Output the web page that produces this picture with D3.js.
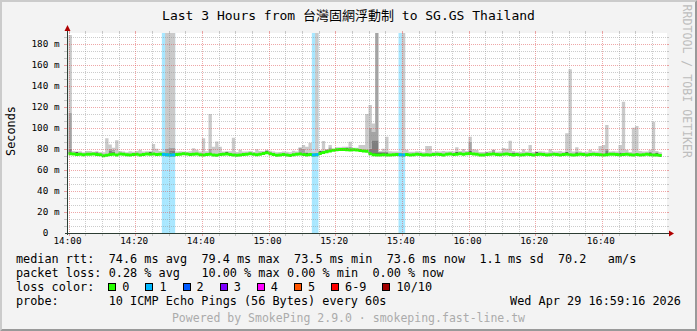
<!DOCTYPE html>
<html><head><meta charset="utf-8">
<script src="https://cdn.jsdelivr.net/npm/d3@7"></script>
<style>html,body{margin:0;padding:0;background:#F3F3F3;} svg{display:block;} text{font-family:'DejaVu Sans Mono','Noto Sans CJK TC',monospace;}</style>
</head><body><svg id="c" width="697" height="331"></svg>
<script>
// ---------------- data ----------------
const title = "Last 3 Hours from 台灣固網浮動制 to SG.GS Thailand";
const yTickValues = [0,20,40,60,80,100,120,140,160,180];
const xTickMinutes = [0,20,40,60,80,100,120,140,160];
const xTickLabels = ["14:00","14:20","14:40","15:00","15:20","15:40","16:00","16:20","16:40"];
// one value per 60 s step starting 14:00 (ms)
const median = [
75.2,75.0,74.6,74.8,74.4,74.9,74.7,75.0,74.5,74.3,
73.5,73.9,74.6,74.9,74.2,75.1,74.8,74.4,74.0,74.6,
74.9,74.2,74.5,75.1,74.8,75.0,74.6,74.9,74.7,74.3,
74.0,74.2,74.5,74.8,75.2,75.0,74.6,74.8,75.1,74.4,
74.0,74.6,74.9,74.2,73.9,74.5,74.8,75.0,74.6,74.2,
73.8,74.0,74.6,74.9,75.3,74.7,74.4,74.9,75.5,76.2,
75.4,74.6,73.9,74.2,74.6,74.0,73.7,74.3,74.8,75.1,
74.6,74.2,74.6,74.2,74.4,75.6,76.4,77.2,78.0,78.6,
79.0,79.3,79.4,79.0,78.8,79.2,78.8,78.4,77.9,77.6,
75.4,74.4,74.2,74.0,74.3,74.1,74.0,74.4,74.5,74.4,
74.2,74.6,74.0,74.3,74.8,74.5,74.1,74.4,74.0,74.6,
74.9,74.5,74.2,74.8,75.0,74.6,74.9,75.2,74.8,75.3,
75.6,75.0,74.8,74.2,74.0,74.5,74.8,75.0,74.6,74.3,
74.7,75.1,74.6,74.2,74.5,74.0,74.4,74.8,74.5,74.2,
74.6,74.9,74.5,74.1,74.4,74.8,74.6,74.2,74.5,74.8,
74.4,74.0,74.3,74.7,74.5,74.2,74.6,74.9,74.5,74.3,
74.0,74.4,74.7,74.9,74.5,74.1,74.6,74.8,74.4,74.2,
74.5,74.1,74.4,74.8,74.3,74.0,74.2,73.6
];
// highest ping of each step (ms)
const pingMax = [
188,77.8,77.5,77.6,76.8,77.8,78.0,77.2,77.6,77.0,
76.6,90.0,84.0,81.0,88.0,77.8,77.4,76.6,77.6,77.2,
77.8,79.0,77.4,77.6,77.6,84.5,80.0,77.8,77.4,200,
200,200,77.5,77.6,77.4,77.2,77.6,80.5,79.0,77.4,
90.0,77.6,113.0,82.0,87.0,82.0,77.4,77.5,77.6,90.5,
76.9,79.0,77.4,77.4,77.8,77.0,79.6,77.8,78.0,79.0,
78.2,77.4,76.7,77.0,77.4,77.2,76.6,78.2,77.4,81.4,
83.6,82.0,85.8,77.5,200,78.5,87.4,79.6,83.6,80.0,
81.4,81.4,82.0,82.0,86.7,81.0,81.0,83.6,83.6,113.0,
121.6,104.0,200,78.0,80.0,91.5,77.6,77.4,77.4,77.0,
200,79.0,77.2,77.2,77.6,77.4,76.8,82.6,82.6,77.2,
77.6,77.4,78.0,77.4,77.6,77.4,81.4,77.8,79.8,78.0,
91.5,79.6,79.0,77.0,77.0,77.2,78.0,79.0,77.2,77.4,
80.7,80.0,87.7,78.0,77.2,77.0,79.6,77.4,83.6,77.0,
77.5,77.6,77.4,76.6,79.6,77.4,77.4,78.0,77.2,94.7,
155.5,77.4,81.4,77.6,77.0,77.2,79.0,77.6,77.4,82.6,
83.6,102.6,77.4,77.6,77.4,83.6,124.7,79.0,77.0,100.0,
101.6,78.0,77.4,77.4,79.0,105.8,78.0,76.8
];
// 2nd highest ping where it stands out (step, ms)
const ping9Step = [0,12,13,29,30,31,42,69,70,77,78,84,90,91,92,120,127,161];
const ping9Val  = [114,80,79,80,81,81,80,81,80,79.6,81.4,82,100,96,200,86.7,79,80];
// 3rd highest ping where it stands out
const ping8Step = [0,12,13,30,31,77,90,91,92,161];
const ping8Val  = [80,78,77.5,78,78,79,80,88,88,78.5];
// 4th highest ping where it stands out (dark smoke just above the median)
const ping7Step = [2,8,24,30,47,59,71,75,83,90,91,92,93,94,95,116,120,125,133,140,149,152,161,165,174,176];
const ping7Val  = [76.9,76.8,77.1,76.5,77.3,78.4,76.5,77.9,81.2,76.8,76.6,76.6,76.6,76.6,76.6,77.2,77.9,76.8,76.5,76.9,77.1,76.6,76.7,76.4,76.6,76.5];
// steps with packet loss (lost pings out of 10)
const lossStep  = [28,29,30,31,73,74,99,100];
const lossCount = [1,1,1,1,1,1,1,1];
const lossLabels = ["0","1","2","3","4","5","6-9","10/10"];
const lossColors = ["#26ff00","#00b8ff","#0059ff","#7e00ff","#ff00ff","#ff5500","#ff0000","#a10000"];
const legendRow1 = [["median rtt:",0],["74.6 ms avg",13],["79.4 ms max",26],["73.5 ms min",39],["73.6 ms now",52],["1.1 ms sd",65],["70.2",76],["am/s",83]];
const legendRow2 = [["packet loss:",0],["0.28 % avg",13],["10.00 % max",26],["0.00 % min",38],["0.00 % now",50]];
const probeText = "10 ICMP Echo Pings (56 Bytes) every 60s";
const dateText = "Wed Apr 29 16:59:16 2026";
const poweredText = "Powered by SmokePing 2.9.0 · smokeping.fast-line.tw";
const watermark = "RRDTOOL / TOBI OETIKER";

// ---------------- drawing ----------------
const W = 697, H = 331;
const svg = d3.select("#c");
const X0 = 67, X1 = 667, Y0 = 233, Y1 = 33;
const x = d3.scaleLinear().domain([-0.45, 179.55]).range([X0, X1]);
const y = d3.scaleLinear().domain([0, 190]).range([Y0, Y1]);
const px = v => Math.round(v) + 0.5;

svg.append("rect").attr("width", W).attr("height", H).attr("fill", "#F3F3F3");
svg.append("path").attr("d", "M0,0H697L695,2H2V329L0,331Z").attr("fill", "#CBCBCB");
svg.append("path").attr("d", "M697,0V331H0L2,329H695V2Z").attr("fill", "#999999");

svg.append("defs").append("clipPath").attr("id", "plot")
  .append("rect").attr("x", X0).attr("y", Y1).attr("width", X1 - X0).attr("height", Y0 - Y1);
svg.append("rect").attr("x", X0).attr("y", Y1).attr("width", X1 - X0).attr("height", Y0 - Y1).attr("fill", "#ffffff");

const plot = svg.append("g").attr("clip-path", "url(#plot)");

// loss background
const lossColorOf = n => n === 0 ? lossColors[0] : n <= 5 ? lossColors[n] : n < 10 ? lossColors[6] : lossColors[7];
lossStep.forEach((k, i) => {
  plot.append("rect").attr("x", x(k)).attr("width", x(k + 1) - x(k))
    .attr("y", y(190)).attr("height", y(0) - y(190))
    .attr("fill", lossColorOf(lossCount[i])).attr("fill-opacity", 0.34);
});

// smoke
const lookup = (steps, vals) => { const m = new Map(); steps.forEach((s, i) => m.set(s, vals[i])); return m; };
const m7 = lookup(ping7Step, ping7Val), m8 = lookup(ping8Step, ping8Val), m9 = lookup(ping9Step, ping9Val);
const pts = median.map((m, k) => {
  const q7 = Math.max(m, m7.has(k) ? m7.get(k) : m);
  const q8 = Math.max(q7, m8.has(k) ? m8.get(k) : q7);
  const q9 = Math.max(q8, m9.has(k) ? m9.get(k) : q8);
  const q10 = Math.max(q9, pingMax[k]);
  return {k, m, q7, q8, q9, q10: q10};
});
pts.push(Object.assign({}, pts[pts.length - 1], {k: pts.length}));
const clipV = v => Math.min(v, 195);
const bands = [["m", "q7", "#585858"], ["q7", "q8", "#7e7e7e"], ["q8", "q9", "#a4a4a4"], ["q9", "q10", "#cacaca"]];
bands.forEach(([lo, hi, col]) => {
  const area = d3.area().curve(d3.curveStepAfter)
    .x(d => x(d.k)).y0(d => y(clipV(d[lo]))).y1(d => y(clipV(d[hi])));
  plot.append("path").attr("d", area(pts)).attr("fill", col);
});

// median band
const sw = 1.5;
const medArea = d3.area().curve(d3.curveStepAfter)
  .x(d => x(d.k)).y0(d => y(d.m) + sw).y1(d => y(d.m) - sw);
plot.append("path").attr("d", medArea(pts)).attr("fill", lossColors[0]);
lossStep.forEach((k, i) => {
  plot.append("rect").attr("x", x(k)).attr("width", x(k + 1) - x(k))
    .attr("y", y(median[k]) - sw).attr("height", 2 * sw).attr("fill", lossColorOf(lossCount[i]));
});

// grid (drawn on top, semi transparent)
const grid = svg.append("g").attr("shape-rendering", "crispEdges");
const minorCol = "rgba(143,143,143,0.46)", majorCol = "rgba(222,80,80,0.5)";
const hLine = (v, col) => {
  const yy = px(y(v));
  grid.append("line").attr("x1", X0).attr("x2", X1).attr("y1", yy).attr("y2", yy)
    .attr("stroke", col).attr("stroke-dasharray", "1,1");
  grid.append("line").attr("x1", X0 - 3).attr("x2", X0).attr("y1", yy).attr("y2", yy).attr("stroke", col);
  grid.append("line").attr("x1", X1).attr("x2", X1 + 2).attr("y1", yy).attr("y2", yy).attr("stroke", col);
};
const vLine = (t, col) => {
  const xx = px(x(t));
  grid.append("line").attr("x1", xx).attr("x2", xx).attr("y1", Y1).attr("y2", Y0)
    .attr("stroke", col).attr("stroke-dasharray", "1,1");
  grid.append("line").attr("x1", xx).attr("x2", xx).attr("y1", Y0).attr("y2", Y0 + 3).attr("stroke", col);
  grid.append("line").attr("x1", xx).attr("x2", xx).attr("y1", Y1 - 2).attr("y2", Y1).attr("stroke", col);
};
const yMinorStep = 20 / 3;
d3.range(yMinorStep, 190, yMinorStep).forEach(v => {
  if (Math.abs(v / 20 - Math.round(v / 20)) > 0.01) hLine(v, minorCol);
});
yTickValues.filter(v => v > 0).forEach(v => hLine(v, majorCol));
d3.range(0, 180, 5).forEach(t => { if (t % 20 !== 0) vLine(t, minorCol); });
xTickMinutes.forEach(t => vLine(t, majorCol));

// axes + arrows
const axisCol = "#2C3D33";
svg.append("line").attr("x1", X0 + 0.5).attr("x2", X0 + 0.5).attr("y1", Y0 + 2).attr("y2", Y1 - 4)
  .attr("stroke", axisCol).attr("shape-rendering", "crispEdges");
svg.append("line").attr("x1", X0 - 2).attr("x2", X1 + 3).attr("y1", Y0 + 0.5).attr("y2", Y0 + 0.5)
  .attr("stroke", axisCol).attr("shape-rendering", "crispEdges");
svg.append("path").attr("d", `M${X0 - 2.5},${Y1 - 2}L${X0 + 3.5},${Y1 - 2}L${X0 + 0.5},${Y1 - 8}Z`).attr("fill", "#B00000");
svg.append("path").attr("d", `M${X1 + 2},${Y0 - 2.5}L${X1 + 2},${Y0 + 3.5}L${X1 + 7},${Y0 + 0.5}Z`).attr("fill", "#B00000");

// axis labels
const axisFont = 9.3, adv = axisFont * 0.602;
const yl = svg.append("g").attr("font-size", axisFont).attr("fill", "#000");
yTickValues.forEach(v => {
  yl.append("text").attr("x", v === 0 ? 59.5 - 2 * adv : 59.5).attr("y", y(v)).attr("dy", "0.36em")
    .attr("text-anchor", "end").text(v === 0 ? "0" : v + " m");
});
xTickMinutes.forEach((t, i) => {
  yl.append("text").attr("x", x(t) - 1).attr("y", 244).attr("text-anchor", "middle").text(xTickLabels[i]);
});

// title
svg.append("text").attr("x", 348.5).attr("y", 19.5).attr("text-anchor", "middle")
  .attr("font-size", 13).attr("fill", "#000").text(title);

// unit
const legFont = 11.84, ladv = 7.13;
svg.append("text").attr("transform", "translate(15,131) rotate(-90)").attr("text-anchor", "middle")
  .attr("font-size", legFont).attr("fill", "#000").text("Seconds");

// watermark right
svg.append("text").attr("transform", "translate(683,4.5) rotate(90)")
  .attr("font-size", 11.6).attr("fill", "#BDBDBD").text(watermark);

// legend
const LX = 16;
const rowY = [263.4, 277.2, 291, 304.8];
const leg = svg.append("g").attr("font-size", legFont).attr("fill", "#000");
legendRow1.forEach(([t, c]) => leg.append("text").attr("x", LX + c * ladv).attr("y", rowY[0]).text(t));
legendRow2.forEach(([t, c]) => leg.append("text").attr("x", LX + c * ladv).attr("y", rowY[1]).text(t));
leg.append("text").attr("x", LX).attr("y", rowY[2]).text("loss color:");
let cx = 108.3;
lossLabels.forEach((lab, i) => {
  leg.append("rect").attr("x", Math.round(cx) + 0.5).attr("y", 283.5).attr("width", 7).attr("height", 7)
    .attr("fill", lossColors[i]).attr("stroke", "#000").attr("stroke-width", 1);
  leg.append("text").attr("x", cx + 14).attr("y", rowY[2]).text(lab);
  cx += 14 + lab.length * ladv + 16;
});
leg.append("text").attr("x", LX).attr("y", rowY[3]).text("probe:");
leg.append("text").attr("x", LX + 13 * ladv).attr("y", rowY[3]).text(probeText);
leg.append("text").attr("x", 681).attr("y", rowY[3]).attr("text-anchor", "end").text(dateText);

svg.append("text").attr("x", 348.5).attr("y", 321.5).attr("text-anchor", "middle")
  .attr("font-size", 11.5).attr("fill", "#ABABAB").text(poweredText);
</script>
</body></html>
